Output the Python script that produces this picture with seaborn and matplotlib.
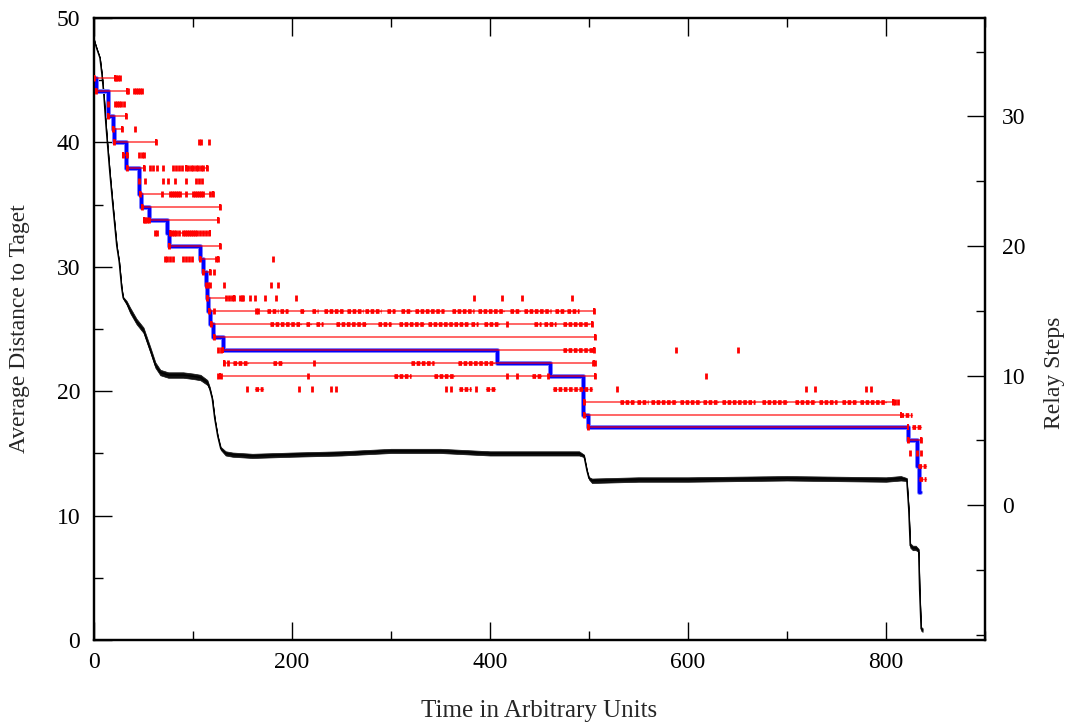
import numpy as np
import pandas as pd
import matplotlib
matplotlib.use("Agg")
import matplotlib.pyplot as plt
import seaborn as sns
from matplotlib.ticker import MultipleLocator

# ---------------- data ----------------
# average distance to target (left axis)
dist_time = [0, 1, 3, 6, 8, 10, 12, 13.5, 16, 19, 23, 25.5, 28, 29.5, 33, 36.5, 43, 50, 57,
             62, 67, 75, 90, 100, 107.5, 114.5, 117, 119.5, 122, 125, 128, 133, 140, 160,
             200, 250, 300, 350, 400, 450, 490, 495, 498, 500, 503, 550, 600, 700, 800,
             815, 821, 823, 824.5, 827, 830, 833, 834, 835.5, 837]
dist_value = [48.3, 48.0, 47.5, 46.8, 45.5, 43.8, 41.5, 40.0, 37.6, 35.0, 31.7, 30.4, 28.3,
              27.5, 27.1, 26.5, 25.6, 24.9, 23.3, 22.1, 21.5, 21.3, 21.3, 21.2, 21.1, 20.7,
              20.2, 19.4, 17.8, 16.4, 15.4, 15.0, 14.9, 14.8, 14.9, 15.0, 15.2, 15.2, 15.0,
              15.0, 15.0, 14.8, 13.6, 13.0, 12.8, 12.9, 12.9, 13.0, 12.9, 13.0, 12.9, 10.5,
              7.6, 7.4, 7.4, 7.2, 4.0, 0.9, 0.8]
dist_spread = [0, 0, 0, 0, 0, 0, 0, 0, 0, 0, 0, 0, 0, 0.08, 0.15, 0.22, 0.22, 0.22, 0.22, 0.22,
               0.22, 0.22, 0.22, 0.22, 0.22, 0.2, 0.12, 0.05, 0.05, 0.05, 0.12, 0.17, 0.17,
               0.17, 0.17, 0.17, 0.17, 0.17, 0.17, 0.17, 0.17, 0.1, 0.05, 0.1, 0.18, 0.18,
               0.18, 0.18, 0.18, 0.18, 0.12, 0.05, 0.18, 0.18, 0.18, 0.12, 0.05, 0.15, 0.15]

# relay steps (right axis), step line
relay_time = [0, 2, 14, 19.5, 20.5, 32.5, 45.6, 47.7, 55.8, 74, 76, 107.5, 110.5, 113.5,
              114.6, 115.6, 117.6, 120.7, 129.8, 406.6, 460.3, 493.8, 498.9, 822.3, 831.5,
              833.5, 834.5]
relay_level = [33, 32, 30, 29, 28, 26, 24, 23, 22, 21, 20, 19, 18, 17, 16, 15, 14, 13, 12,
               11, 10, 7, 6, 5, 3, 1, 1]

# red interval lines per relay level
seg_level = [33, 32, 30, 29, 28, 27, 26, 26, 24, 23, 22, 21, 20, 19, 18, 16, 15, 14, 13, 12,
             11, 10, 8, 7, 6, 5]
seg_start = [0, 2, 14, 19.5, 20.5, 29.5, 33, 93, 46, 48, 50, 77, 76, 107, 110.5, 114.6, 116,
             118, 121, 130, 131, 127, 495, 495, 499, 822.5]
seg_end = [21, 33, 32.5, 28.5, 63, 33.5, 50, 114, 120, 127, 125, 117, 127, 125, 117.5, 141,
           505, 503, 506, 505, 505, 506, 807, 815, 822.5, 835.5]

# individual red tick marks per relay level
mark_rows = [33, 32, 31, 30, 29, 28, 27, 26, 25, 24, 23, 22, 21, 20, 19, 18, 17, 16, 15, 14,
             13, 12, 11, 10, 9, 8, 7, 6, 5, 4]
mark_times = [
    [0, 21, 22.5, 24.5, 26.5],
    [2, 33, 34, 40, 42, 44, 46, 48],
    [14, 21, 23.5, 25.5, 27.5, 30.5],
    [14, 32.5],
    [19.5, 28.5, 41],
    [20.5, 63, 106, 108.5, 116],
    [29.5, 33.5, 45, 48, 51],
    [33, 50, 57, 60, 64, 70, 80, 83, 86, 89, 93, 95, 98, 100, 103, 105, 108, 110, 114],
    [45, 52, 70, 75, 82, 93, 103, 106, 109],
    [46, 69, 77, 79, 81, 83, 85, 87, 93, 100, 102, 104, 106, 108, 110, 117.5, 120],
    [48, 127],
    [50, 52, 54, 56, 125],
    [62, 64, 77, 79, 81, 83, 86, 90, 92, 94, 96, 98, 100, 102, 104, 107, 110, 113, 116],
    [76, 127],
    [72, 74, 77, 80, 90, 93, 96, 99, 107, 123, 125, 181],
    [110.5, 117.5, 121.5],
    [113.5, 115.5, 117.5, 131, 178.5, 185.5],
    [114.6, 133, 136, 139, 141, 147, 149, 151, 158, 163, 173, 183.5, 204, 384, 412, 432, 482.5],
    [116, 121, 164, 166, 505],
    [118, 417, 503],
    [121, 506],
    [125, 128, 505, 588, 651],
    [131, 135, 222, 504, 506],
    [125, 128, 216, 417, 427, 459, 506, 618],
    [155, 207, 220, 239, 244, 356, 361, 386, 528, 719, 728, 780, 785],
    [495, 807, 809, 812],
    [495],
    [499],
    [822.5, 835.5],
    [824.5, 831, 835],
]

# dense runs of red tick marks (level, start, end)
clus_level = [15, 15, 15, 15, 15, 15, 15, 15, 15, 15, 15, 15, 15, 15, 15, 15,
              14, 14, 14, 14, 14, 14, 14, 14, 14, 14, 14, 14,
              12, 11, 11, 11, 11, 10, 10, 10, 9, 9, 9, 9,
              8, 8, 8, 8, 8, 8, 8, 8, 8, 8, 8, 7, 6, 3, 2]
clus_start = [175, 188, 208, 220, 232, 256, 274, 296, 310, 324, 362, 388, 420, 434, 466, 478,
              178, 214, 224, 244, 287, 308, 337, 381, 394, 444, 455, 474,
              474, 140, 181, 320, 368, 303, 343, 442, 163, 369, 396, 464,
              531, 548, 563, 592, 615, 634, 675, 708, 732, 756, 774, 814, 826, 832.5, 833.5]
clus_end = [186, 196, 212, 226, 252, 272, 290, 304, 320, 354, 384, 414, 430, 462, 476, 490,
            209, 219, 231, 275, 300, 333, 378, 388, 409, 452, 467, 500,
            504, 156, 190, 343, 404, 320, 364, 452, 171, 381, 405, 503,
            545, 560, 588, 612, 630, 668, 700, 728, 750, 770, 800, 826, 835, 840.5, 840.5]

x_ticks = [0, 200, 400, 600, 800]
left_ticks = [0, 10, 20, 30, 40, 50]
right_ticks = [0, 10, 20, 30]

# ---------------- drawing ----------------
sns.set_theme(style="white")
plt.rcParams["font.family"] = ["Liberation Serif", "DejaVu Serif"]

fig = plt.figure(figsize=(10.67, 7.23), dpi=100)
ax = fig.add_axes([94 / 1067, 1 - 640 / 723, 891 / 1067, 622 / 723])
ax2 = ax.twinx()

RED = "#ff0000"
BLUE = "#0000ff"

dist_df = pd.DataFrame({"t": dist_time, "d": dist_value, "s": dist_spread})
ax.fill_between(dist_df["t"], dist_df["d"] - dist_df["s"], dist_df["d"] + dist_df["s"],
                color="#111111", lw=0.5, zorder=2)
sns.lineplot(data=dist_df, x="t", y="d", ax=ax, color="black", lw=1.1,
             estimator=None, sort=False, zorder=3)

relay_df = pd.DataFrame({"t": relay_time, "lvl": relay_level})
sns.lineplot(data=relay_df, x="t", y="lvl", ax=ax2, color="#8c8cff", lw=3.6,
             drawstyle="steps-post", estimator=None, sort=False, zorder=2)
sns.lineplot(data=relay_df, x="t", y="lvl", ax=ax2, color=BLUE, lw=2.3,
             drawstyle="steps-post", estimator=None, sort=False, zorder=3)

for lv, a, b in zip(seg_level, seg_start, seg_end):
    ax2.plot([a, b], [lv, lv], color=RED, lw=1.2, alpha=0.7, zorder=4,
             solid_capstyle="butt")
    ax2.plot([a, b], [lv, lv], ls="none", marker="|", ms=4.5, mew=1.4, color=RED, zorder=5)

for lv, a, b in zip(clus_level, clus_start, clus_end):
    ax2.plot([a, b], [lv, lv], color=RED, lw=1.0, alpha=0.7, zorder=4)
    ax2.plot([a, b], [lv, lv], color=RED, lw=3.4, ls=(0, (0.75, 0.35)), zorder=5,
             dash_capstyle="butt")

for lv, ts in zip(mark_rows, mark_times):
    ax2.plot(ts, [lv] * len(ts), ls="none", marker="|", ms=4.5, mew=2.0, color=RED, zorder=5)

# axes limits / ticks
ax.set_xlim(0, 900)
ax.set_ylim(0, 50)
ax2.set_ylim(-10.4, 37.6)
ax.set_xticks(x_ticks)
ax.set_yticks(left_ticks)
ax2.set_yticks(right_ticks)
ax.xaxis.set_minor_locator(MultipleLocator(100))
ax.yaxis.set_minor_locator(MultipleLocator(5))
ax2.yaxis.set_minor_locator(MultipleLocator(5))

fs = 17
ax.tick_params(axis="x", which="both", direction="in", top=True, bottom=True,
               labelsize=fs, pad=9, colors="black")
ax.tick_params(axis="y", which="both", direction="in", left=True, right=False,
               labelsize=fs, pad=10, colors="black")
ax2.tick_params(axis="y", which="both", direction="in", right=True, left=False,
                labelsize=fs, pad=12, colors="black")
for a in (ax, ax2):
    a.tick_params(which="major", length=13, width=1.0)
    a.tick_params(which="minor", length=6.5, width=1.0)
    for sp in a.spines.values():
        sp.set_color("black")
        sp.set_linewidth(1.6)
    a.grid(False)

ax.set_xlabel("Time in Arbitrary Units", fontsize=18)
ax.set_ylabel("Average Distance to Taget", fontsize=fs)
ax2.set_ylabel("Relay Steps", fontsize=fs)
ax.xaxis.set_label_coords(0.5, -0.097)
ax.yaxis.set_label_coords(-0.072, 0.5)
ax2.yaxis.set_label_coords(1.066, 0.43)

fig.savefig("out.png", dpi=100, facecolor="white")
